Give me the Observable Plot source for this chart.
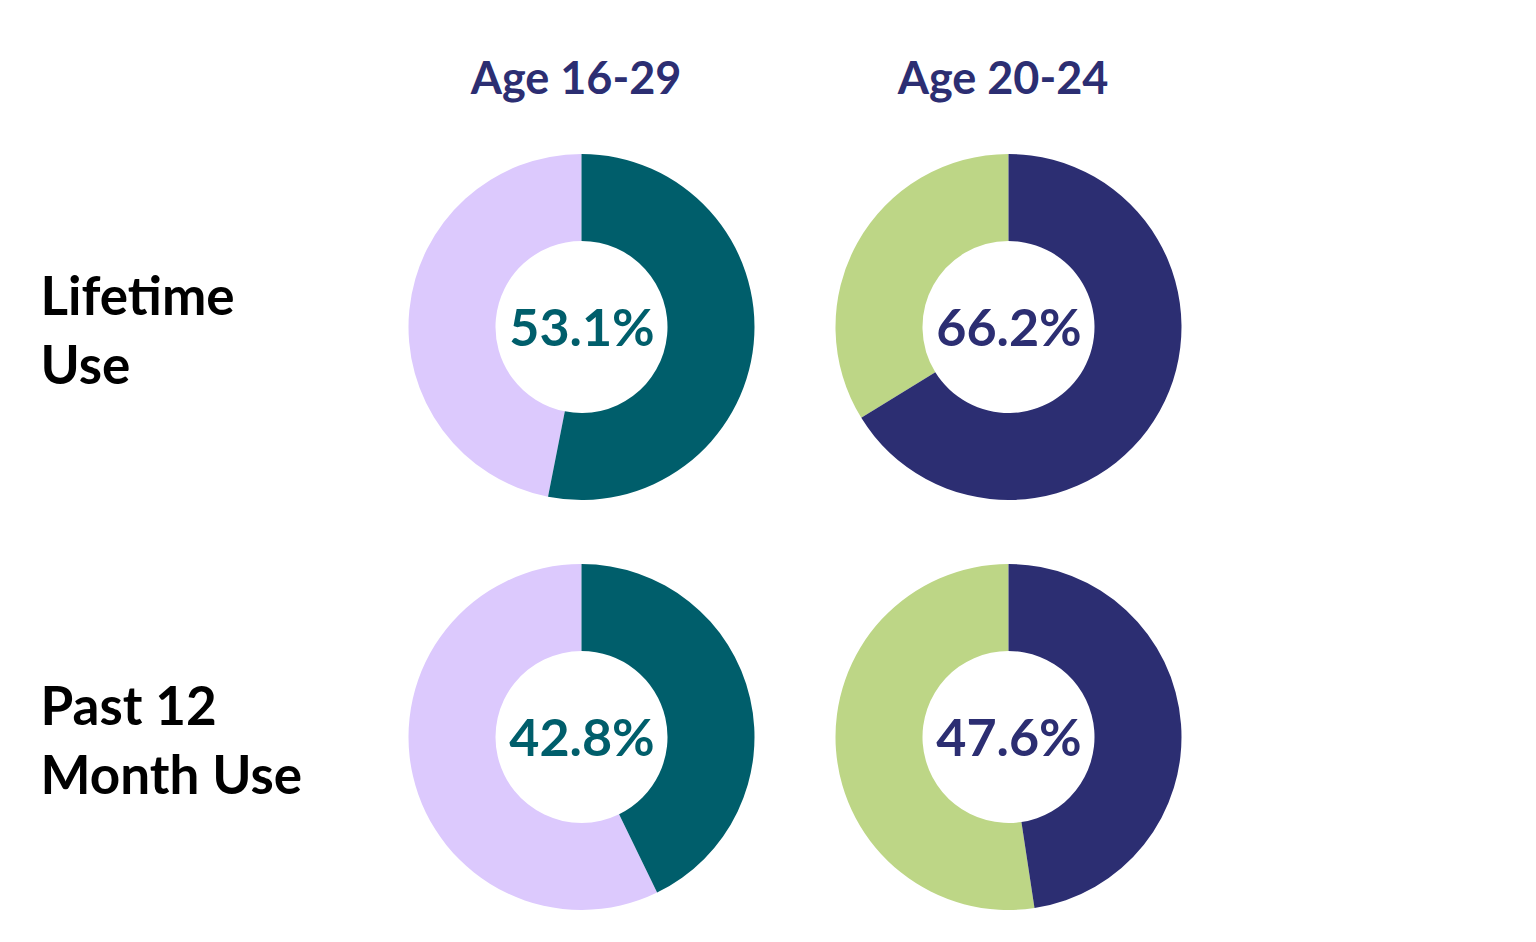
<!DOCTYPE html>
<html>
<head>
<meta charset="utf-8">
<script src="https://cdn.jsdelivr.net/npm/d3@7"></script>
<script src="https://cdn.jsdelivr.net/npm/@observablehq/plot@0.6"></script>
<style>
  html, body { margin: 0; padding: 0; background: #ffffff; }
  #chart { width: 1536px; height: 942px; }
  svg text { font-family: Lato, "Noto Sans", sans-serif; font-weight: 700; }
</style>
</head>
<body>
<div id="chart"></div>
<script>
// Data
const ageGroups = ["Age 16-29", "Age 20-24"];
const measures = ["Lifetime Use", "Past 12 Month Use"];
const measureLabels = ["Lifetime\nUse", "Past 12\nMonth Use"];
const values = [
  // [measure, ageGroup, percent]
  ["Lifetime Use", "Age 16-29", 53.1],
  ["Lifetime Use", "Age 20-24", 66.2],
  ["Past 12 Month Use", "Age 16-29", 42.8],
  ["Past 12 Month Use", "Age 20-24", 47.6]
];
const mainColors = {"Age 16-29": "#005e6b", "Age 20-24": "#2c2e72"};
const restColors = {"Age 16-29": "#dcc9fd", "Age 20-24": "#bdd686"};

const data = values.map(([measure, age, pct]) => ({measure, age, pct}));
const rowLabels = measures.map((m, i) => ({measure: m, text: measureLabels[i]}));

const W = 1536, H = 942;
const outerR = 173, innerR = 86;

// custom donut mark positioned through Plot's x/y band scales
function donuts(index, scales, vals, dimensions, context) {
  const g = d3.create("svg:g");
  const arc = d3.arc().innerRadius(innerR).outerRadius(outerR);
  for (const d of data) {
    const cx = scales.x(d.age) + scales.x.bandwidth() / 2;
    const cy = scales.y(d.measure) + scales.y.bandwidth() / 2;
    const a = d.pct / 100 * 2 * Math.PI;
    const gg = g.append("g").attr("transform", `translate(${cx},${cy})`);
    gg.append("path").attr("d", arc({startAngle: a, endAngle: 2 * Math.PI})).attr("fill", restColors[d.age]);
    gg.append("path").attr("d", arc({startAngle: 0, endAngle: a})).attr("fill", mainColors[d.age]);
  }
  return g.node();
}

const marginLeft = 368, marginRight = 314;
const frameCenter = marginLeft + (W - marginLeft - marginRight) / 2;

const chart = Plot.plot({
  width: W,
  height: H,
  marginLeft,
  marginRight,
  marginTop: 122,
  marginBottom: 0,
  x: {type: "band", domain: ageGroups, padding: 0, axis: null},
  y: {type: "band", domain: measures, padding: 0, axis: null},
  style: {background: "#ffffff"},
  marks: [
    donuts,
    Plot.text(data, {
      x: "age", y: "measure",
      text: d => d.pct.toFixed(1) + "%",
      fill: d => mainColors[d.age],
      fontSize: 52, fontWeight: 700, dy: 2,
      style: {letterSpacing: "-2.5px"}
    }),
    Plot.text(ageGroups, {
      x: d => d, frameAnchor: "top", dy: -60,
      text: d => d, fill: "#2c2e72", fontSize: 45, fontWeight: 700, dx: -6
    }),
    Plot.text(rowLabels, {
      y: "measure", dx: 40 - frameCenter,
      text: "text", fill: "#000000", fontSize: 53, fontWeight: 700,
      textAnchor: "start", lineAnchor: "middle", lineHeight: 1.3
    })
  ]
});

document.getElementById("chart").appendChild(chart);
</script>
</body>
</html>
